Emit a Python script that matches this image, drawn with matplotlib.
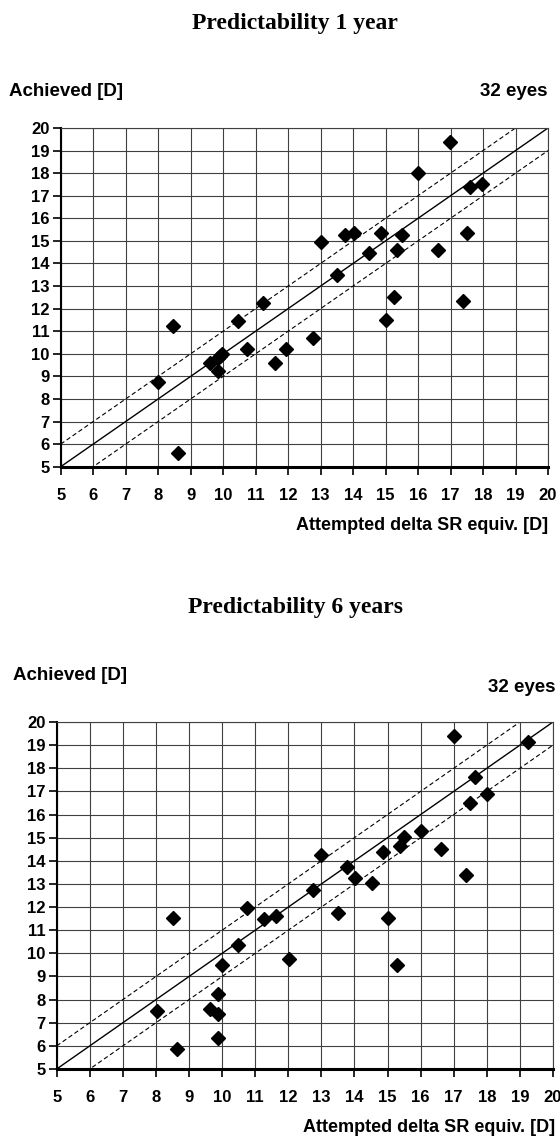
import numpy as np
import matplotlib.pyplot as plt

# attempted vs achieved correction
att_1y = [8.0, 8.47, 8.6, 9.6, 9.85, 9.85, 9.95, 9.9, 10.47, 10.72, 11.22, 11.6, 11.95,
          12.77, 13.02, 13.51, 13.74, 14.02, 14.49, 14.86, 15.02, 15.25, 15.36, 15.5,
          16.01, 16.62, 16.99, 17.37, 17.5, 17.6, 17.98]
ach_1y = [8.75, 11.23, 5.62, 9.61, 9.83, 9.24, 10.0, 9.9, 11.47, 10.23, 12.23, 9.6, 10.23,
          10.71, 14.97, 13.48, 15.24, 15.37, 14.48, 15.37, 11.48, 12.5, 14.6, 15.24,
          18.0, 14.6, 19.36, 12.36, 15.37, 17.37, 17.5]

att_6y = [8.02, 8.52, 8.65, 9.63, 9.89, 9.89, 9.89, 10.01, 10.49, 10.75, 11.27, 11.62, 12.01,
          12.75, 13.0, 13.51, 13.76, 14.01, 14.52, 14.87, 15.02, 15.27, 15.37, 15.5, 16.01,
          16.63, 17.0, 17.38, 17.5, 17.63, 18.01, 19.24]
ach_6y = [7.51, 11.51, 5.85, 7.61, 8.23, 7.37, 6.36, 9.5, 10.37, 11.96, 11.47, 11.61, 9.74,
          12.75, 14.26, 11.76, 13.74, 13.27, 13.04, 14.39, 11.51, 9.5, 14.63, 15.04, 15.27,
          14.52, 19.38, 13.38, 16.5, 17.63, 16.89, 19.14]

ticks = list(range(5, 21))
titles = ["Predictability 1 year", "Predictability 6 years"]
ylab = "Achieved [D]"
xlab = "Attempted delta SR equiv. [D]"
n_label = "32 eyes"

SANS = "Liberation Sans"
SERIF = "Liberation Serif"

fig = plt.figure(figsize=(5.6, 11.4), dpi=100)
W, H = 560.0, 1140.0


def fx(px):
    return px / W


def fy(py):
    return 1 - py / H


def panel(rect, xs, ys):
    ax = fig.add_axes(rect)
    ax.set_xlim(5, 20)
    ax.set_ylim(5, 20)
    ax.set_xticks(ticks)
    ax.set_yticks(ticks)
    ax.grid(True, color="0.25", lw=0.8)
    ax.set_axisbelow(True)
    line = np.array([5, 20])
    ax.plot(line, line, color="black", lw=1.0)
    ax.plot(line, line + 1, color="black", lw=0.8, ls=(0, (4, 2.5)))
    ax.plot(line, line - 1, color="black", lw=0.8, ls=(0, (4, 2.5)))
    ax.plot(xs, ys, ls="none", marker="D", ms=7, color="black", clip_on=False)
    for s in ["top", "right"]:
        ax.spines[s].set_color("0.25")
        ax.spines[s].set_linewidth(0.8)
    ax.spines["left"].set_linewidth(1.5)
    ax.spines["bottom"].set_linewidth(2.2)
    ax.tick_params(axis="both", direction="out", length=6, width=1.2, colors="black")
    ax.tick_params(axis="x", pad=9)
    ax.tick_params(axis="y", pad=2)
    for lab in ax.get_xticklabels() + ax.get_yticklabels():
        lab.set_fontfamily(SANS)
        lab.set_fontweight("bold")
        lab.set_fontsize(12)
    return ax


ax1 = panel([fx(60.7), fy(466.7), fx(548 - 60.7), (466.7 - 128) / H], att_1y, ach_1y)
ax2 = panel([fx(56.7), fy(1069), fx(553 - 56.7), (1069 - 722) / H], att_6y, ach_6y)

# texts around the panels
fig.text(fx(295), fy(24), titles[0], family=SERIF, weight="bold", fontsize=17,
         ha="center", va="center")
fig.text(fx(9), fy(91), ylab, family=SANS, weight="bold", fontsize=13.5, ha="left", va="center")
fig.text(fx(548), fy(92), n_label, family=SANS, weight="bold", fontsize=13.5, ha="right", va="center")
fig.text(fx(548), fy(525), xlab, family=SANS, weight="bold", fontsize=13, ha="right", va="center")

fig.text(fx(295), fy(608), titles[1], family=SERIF, weight="bold", fontsize=17,
         ha="center", va="center")
fig.text(fx(13), fy(676), ylab, family=SANS, weight="bold", fontsize=13.5, ha="left", va="center")
fig.text(fx(555), fy(688), n_label, family=SANS, weight="bold", fontsize=13.5, ha="right", va="center")
fig.text(fx(555), fy(1128), xlab, family=SANS, weight="bold", fontsize=13, ha="right", va="center")

fig.savefig("out.png", dpi=100)
